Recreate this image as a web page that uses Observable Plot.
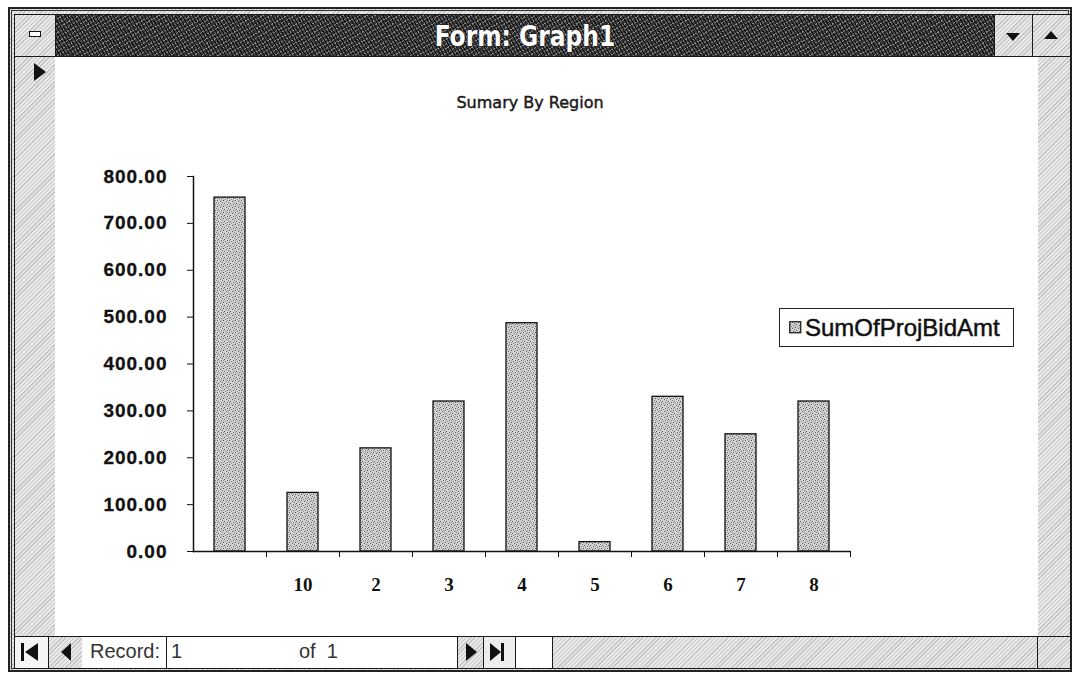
<!DOCTYPE html>
<html>
<head>
<meta charset="utf-8">
<script src="https://cdn.jsdelivr.net/npm/d3@7"></script>
<script src="https://cdn.jsdelivr.net/npm/@observablehq/plot@0.6"></script>
<style>
  html, body { margin: 0; padding: 0; }
  body { width: 1072px; height: 673px; position: relative; overflow: hidden; background: #fff; font-family: "Liberation Sans", Arial, sans-serif; }
  .abs { position: absolute; box-sizing: border-box; }
  .hatch { background-color: #e8e8e8; background-image: repeating-linear-gradient(135deg, #c4c4c4 0 1px, transparent 1px 3px); }
  .dither { background-color: #3c3c3c; background-image:
      repeating-linear-gradient(60deg, #151515 0 1px, transparent 1px 3px),
      repeating-linear-gradient(-30deg, #8a8a8a 0 1px, transparent 1px 4px); }
  .bd { border: 1.5px solid #1a1a1a; }
  .tri { width: 0; height: 0; position: absolute; }
  .navtxt { font-family: "Liberation Sans", Arial, sans-serif; font-size: 20px; color: #333; }
</style>
</head>
<body>
<!-- window frame -->
<div class="abs hatch" style="left:8px;top:7px;width:1064px;height:665px;border:2px solid #222;"></div>
<div class="abs" style="left:11px;top:10px;width:1058px;height:659px;border:1px solid #333;"></div>
<!-- title bar -->
<div class="abs bd dither" style="left:55px;top:14px;width:940px;height:43px;"></div>
<div class="abs" style="left:55px;top:14px;width:940px;height:43px;display:flex;align-items:center;justify-content:center;">
  <span style="font-family:'DejaVu Sans Condensed','DejaVu Sans',sans-serif;font-stretch:condensed;font-weight:bold;font-size:26px;color:#fff;-webkit-text-stroke:0.8px #222;paint-order:stroke fill;transform:scaleY(1.1);display:inline-block;">Form: Graph1</span>
</div>
<!-- control box -->
<div class="abs bd hatch" style="left:14px;top:14px;width:42px;height:43px;"></div>
<div class="abs" style="left:29px;top:31px;width:12px;height:6px;background:#fff;border:1.5px solid #111;"></div>
<!-- min / max buttons -->
<div class="abs bd hatch" style="left:994px;top:14px;width:39px;height:43px;"></div>
<div class="tri" style="left:1006px;top:33px;border-left:7px solid transparent;border-right:7px solid transparent;border-top:8px solid #111;"></div>
<div class="abs bd hatch" style="left:1032px;top:14px;width:39px;height:43px;"></div>
<div class="tri" style="left:1044px;top:31px;border-left:7px solid transparent;border-right:7px solid transparent;border-bottom:8px solid #111;"></div>
<!-- record selector column -->
<div class="abs bd hatch" style="left:14px;top:56px;width:42px;height:581px;"></div>
<div class="tri" style="left:34px;top:63px;border-top:9px solid transparent;border-bottom:9px solid transparent;border-left:12px solid #111;"></div>
<!-- right scrollbar column -->
<div class="abs bd hatch" style="left:1037px;top:56px;width:34px;height:581px;"></div>
<!-- chart area -->
<div class="abs" style="left:55px;top:56px;width:983px;height:581px;background:#fff;border-top:1.5px solid #1a1a1a;border-bottom:1.5px solid #1a1a1a;"></div>
<!-- bottom navigation bar -->
<div class="abs bd hatch" style="left:14px;top:636px;width:1057px;height:33px;"></div>
<div class="abs bd" style="left:14px;top:636px;width:35px;height:33px;background:#f4f4f4;"></div>
<div class="abs" style="left:21px;top:643px;width:3px;height:18px;background:#111;"></div>
<div class="tri" style="left:25px;top:643px;border-top:9px solid transparent;border-bottom:9px solid transparent;border-right:13px solid #111;"></div>
<div class="abs bd hatch" style="left:48px;top:636px;width:35px;height:33px;"></div>
<div class="tri" style="left:61px;top:643px;border-top:9px solid transparent;border-bottom:9px solid transparent;border-right:10px solid #111;"></div>
<div class="abs" style="left:82px;top:636px;width:86px;height:33px;background:#fff;border-top:1.5px solid #1a1a1a;border-bottom:1.5px solid #1a1a1a;"></div>
<div class="abs navtxt" style="left:90px;top:640px;">Record:</div>
<div class="abs bd" style="left:166px;top:636px;width:293px;height:33px;background:#fff;"></div>
<div class="abs navtxt" style="left:171px;top:640px;">1</div>
<div class="abs navtxt" style="left:299px;top:640px;">of&nbsp; 1</div>
<div class="abs bd hatch" style="left:457px;top:636px;width:27px;height:33px;"></div>
<div class="tri" style="left:466px;top:643px;border-top:9px solid transparent;border-bottom:9px solid transparent;border-left:11px solid #111;"></div>
<div class="abs bd" style="left:483px;top:636px;width:33px;height:33px;background:#eee;"></div>
<div class="tri" style="left:490px;top:643px;border-top:9px solid transparent;border-bottom:9px solid transparent;border-left:11px solid #111;"></div>
<div class="abs" style="left:501px;top:643px;width:3px;height:18px;background:#111;"></div>
<div class="abs bd" style="left:515px;top:636px;width:38px;height:33px;background:#fff;"></div>
<div class="abs bd hatch" style="left:1037px;top:636px;width:34px;height:33px;"></div>

<!-- chart -->
<div id="chart" class="abs" style="left:55px;top:56px;width:983px;height:580px;"></div>
<div id="title" class="abs" style="left:55px;top:93px;width:950px;text-align:center;font-family:'DejaVu Sans',sans-serif;font-size:16px;color:#1a1a1a;-webkit-text-stroke:0.45px #1a1a1a;"></div>
<div id="legend" class="abs" style="left:779px;top:308px;width:235px;height:39px;border:1.5px solid #222;background:#fff;display:flex;align-items:center;padding-left:9px;">
  <svg width="13" height="13" style="margin-right:3px;flex:none;"><rect x="0.75" y="0.75" width="11" height="11" fill="url(#dots)" stroke="#222" stroke-width="1.3"></rect></svg>
  <span id="legendText" style="font-family:'Liberation Sans',Arial,sans-serif;font-size:24px;color:#111;-webkit-text-stroke:0.5px #111;"></span>
</div>
<svg width="0" height="0" style="position:absolute">
  <defs>
    <pattern id="dots" width="6" height="6" patternUnits="userSpaceOnUse">
      <rect width="6" height="6" fill="#d2d2d2"></rect>
      <rect x="0" y="0" width="1" height="1" fill="#555"></rect>
      <rect x="3" y="1" width="1" height="1" fill="#666"></rect>
      <rect x="5" y="2" width="1" height="1" fill="#777"></rect>
      <rect x="1" y="3" width="1" height="1" fill="#555"></rect>
      <rect x="4" y="4" width="1" height="1" fill="#666"></rect>
      <rect x="2" y="5" width="1" height="1" fill="#888"></rect>
      <rect x="4" y="0" width="1" height="1" fill="#999"></rect>
      <rect x="0" y="4" width="1" height="1" fill="#999"></rect>
    </pattern>
  </defs>
</svg>

<script>
// ---- data ----
const regions = ["", "10", "2", "3", "4", "5", "6", "7", "8"];
const amounts = [755, 125, 220, 320, 487, 20, 330, 250, 320];
const yTicks = [0, 100, 200, 300, 400, 500, 600, 700, 800];
const seriesName = "SumOfProjBidAmt";
const chartTitle = "Sumary By Region";

const data = regions.map((r, i) => ({region: r, amt: amounts[i]}));

document.getElementById("title").textContent = chartTitle;
document.getElementById("legendText").textContent = seriesName;

const W = 983, H = 580, ml = 138, mr = 188, mt = 120, mb = 85;
const step = (W - ml - mr) / regions.length;

const chart = Plot.plot({
  width: W,
  height: H,
  marginLeft: ml,
  marginRight: mr,
  marginTop: mt,
  marginBottom: mb,
  style: {background: "transparent", color: "#111", overflow: "visible"},
  x: {domain: regions, paddingInner: 0.58, paddingOuter: 0.29, label: null},
  y: {domain: [0, 800], label: null},
  marks: [
    Plot.barY(data, {x: "region", y: "amt", fill: "url(#dots)", stroke: "#111", strokeWidth: 1.3}),
    Plot.ruleY([0], {stroke: "#111", strokeWidth: 1.5}),
    Plot.frame({anchor: "left", stroke: "#111", strokeWidth: 1.5}),
    Plot.axisY({ticks: yTicks, tickFormat: d => d.toFixed(2), tickSize: 6, tickPadding: 20,
      fontSize: 19, fontWeight: "bold", fontFamily: "Liberation Sans, Arial, sans-serif", label: null}),
    Plot.axisX({tickSize: 6, dx: step / 2, tickFormat: () => "", label: null}),
    Plot.axisX({tickSize: 0, tickPadding: 26, fontSize: 19, fontWeight: "bold",
      fontFamily: "Liberation Serif, Times New Roman, serif", label: null})
  ]
});
d3.select(chart).selectAll('[aria-label="y-axis tick label"] text')
  .style("letter-spacing", "1px").style("stroke", "#111").style("stroke-width", "0.3px");
document.getElementById("chart").appendChild(chart);
</script>
</body>
</html>
